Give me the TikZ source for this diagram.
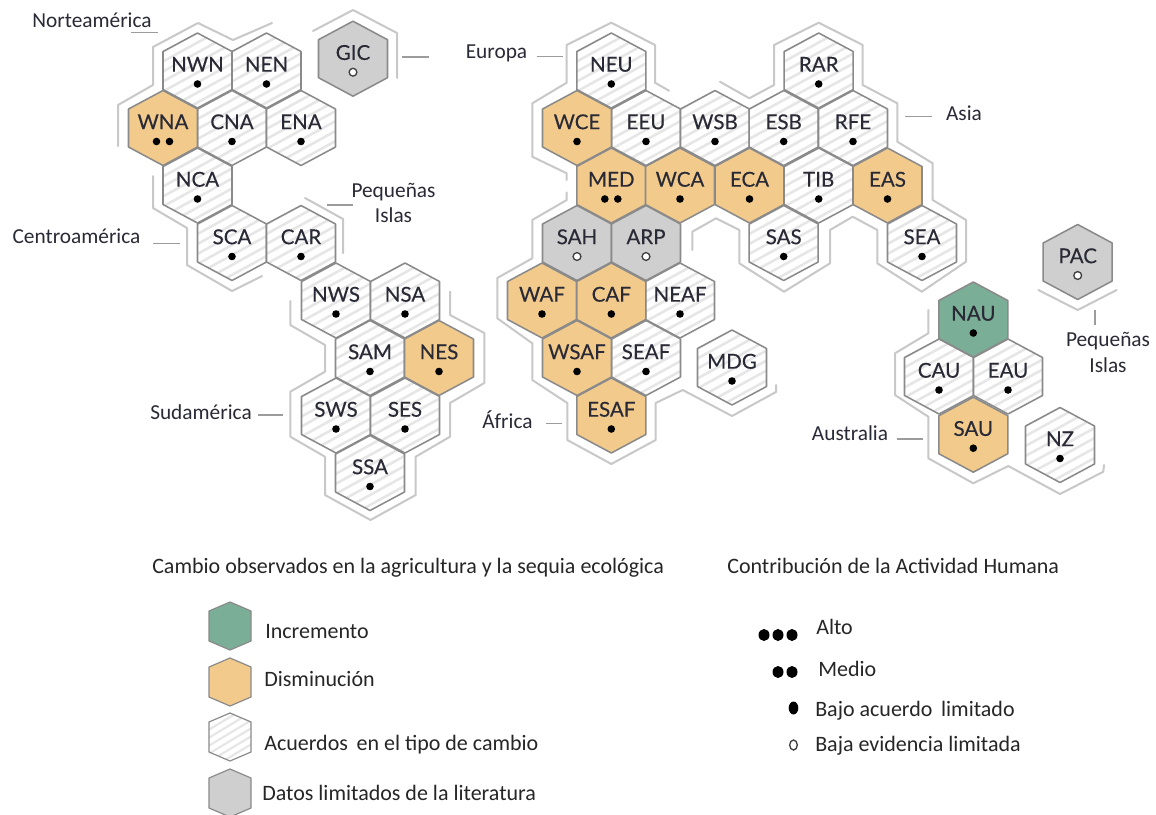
\documentclass[tikz,border=0pt]{standalone}
\usepackage{fontspec}
\setmainfont{Carlito}
\newfontfamily\latofont[FakeBold=0.25]{Lato}
\definecolor{cOrange}{HTML}{F2CB8C}
\definecolor{cGreen}{HTML}{7BAE96}
\definecolor{cGray}{HTML}{CFCFCF}
\definecolor{cBorder}{HTML}{8A8A8A}
\definecolor{cHatch}{HTML}{E6E6E6}
\definecolor{cOut}{HTML}{C8C8C8}
\definecolor{cInk}{HTML}{2A2A36}
\tikzset{
  hexline/.style={draw=cBorder,line width=1.15pt,line join=round},
  outl/.style={draw=cOut,line width=1.5pt,line join=round,line cap=round},
  tick/.style={draw=cBorder!85,line width=0.8pt},
  hexlabel/.style={font=\latofont\fontsize{15.4}{17}\selectfont,text=cInk,anchor=mid,inner sep=0pt},
  lab/.style={font=\fontsize{16}{18}\selectfont,text=cInk,anchor=mid,inner sep=0pt},
  legt/.style={font=\fontsize{16.5}{18}\selectfont,text=black!85,anchor=mid west,inner sep=0pt},
  dotc/.style={fill=black,draw=none},
  doto/.style={fill=white,draw=black!75,line width=1pt},
}
% hexagon path, centre #1,#2
\newcommand{\hxpath}[2]{(#1,#2-37.5) -- (#1+34.5,#2-19) -- (#1+34.5,#2+19) -- (#1,#2+37.5) -- (#1-34.5,#2+19) -- (#1-34.5,#2-19) -- cycle}
% #1 name/text, #2 x, #3 y, #4 kind (O,G,H,L), #5 dots (0 open,1,2)
\newcommand{\hxfill}[4]{%
  \if#4H
    \fill[white] \hxpath{#2}{#3};
    \begin{scope}
      \clip \hxpath{#2}{#3};
      \foreach \k in {-48,-38,...,48}
        \draw[cHatch,line width=1.9pt] (#2-40,#3+\k+22) -- (#2+40,#3+\k-22);
    \end{scope}
  \fi
  \if#4O \fill[cOrange] \hxpath{#2}{#3}; \fi
  \if#4G \fill[cGreen] \hxpath{#2}{#3}; \fi
  \if#4L \fill[cGray] \hxpath{#2}{#3}; \fi
}
\newcommand{\hx}[5]{%
  \hxfill{#1}{#2}{#3}{#4}%
  \draw[hexline] \hxpath{#2}{#3};
  \node[hexlabel] (#1) at (#2,#3-2) {#1};
  \ifnum#5=0 \draw[doto] (#2,#3+13.5) circle (3.9); \fi
  \ifnum#5=1 \fill[dotc] (#2,#3+13.5) circle (3.8); \fi
  \ifnum#5=2 \fill[dotc] (#2-6.5,#3+13.5) circle (3.8) (#2+6.5,#3+13.5) circle (3.8); \fi
}
\newcommand{\lghex}[3]{%
  \def\lgp{(230,#1-24) -- (251,#1-15) -- (251,#1+15) -- (230,#1+24) -- (209,#1+15) -- (209,#1-15) -- cycle}%
  \ifx#2H
    \fill[white] \lgp;
    \begin{scope}
      \clip \lgp;
      \foreach \k in {-36,-28,...,36}
        \draw[cHatch,line width=1.6pt] (205,#1+\k+15) -- (255,#1+\k-15);
    \end{scope}
  \else
    \fill[#3] \lgp;
  \fi
  \draw[draw=cBorder,line width=0.9pt,line join=round] \lgp;
}
\begin{document}
\begin{tikzpicture}[x=0.75pt,y=-0.75pt]
\useasboundingbox (0,0) rectangle (1156,814);
\fill[white] (0,0) rectangle (1156,814);

% --- region outlines
\draw[outl] (272,23) -- (233,40) -- (198,23) -- (153,47) -- (153,85) -- (118,105) -- (118,146);
\draw[outl] (153,176) -- (153,208) -- (187,228) -- (187,265) -- (232,291) -- (262,276);
\draw[outl] (313,31) -- (353,10) -- (397,33) -- (397,78);
\draw[outl] (305,198) -- (343,219) -- (343,253);
\draw[outl] (290.3,301) -- (290.3,325) -- (325,345) -- (325,371.7) -- (290.3,391.7) -- (290.3,436.7) -- (325,456.7) -- (325,495) -- (370.5,520) -- (415.7,495) -- (415.7,456.7) -- (450,436.7) -- (450,403) -- (484.3,383) -- (484.3,333) -- (450,315) -- (450,291.7);
\draw[outl] (669,90.7) -- (655,82.7) -- (655,45) -- (611.3,22.7) -- (566.7,45) -- (566.7,82.7) -- (532.3,103.3) -- (532.3,156.7) -- (566.7,173.3) -- (566.7,180);
\draw[outl] (566.7,192.3) -- (566.7,200) -- (532.3,220) -- (532.3,258.3) -- (497.3,278) -- (497.3,318.3) -- (532.3,343.3) -- (532.3,380) -- (567.3,403) -- (567.3,440) -- (611.3,464) -- (655.7,440) -- (655.7,403) -- (682.7,390) -- (732,416) -- (776,392) -- (776,385);
\draw[outl] (720,81.7) -- (749.3,98.3) -- (774,85) -- (774,45) -- (818.7,22.7) -- (862.7,45) -- (862.7,85) -- (897.3,103.3) -- (897.3,141.7) -- (932.7,163.3) -- (932.7,200) -- (966,220) -- (966,261.7) -- (921.7,291.7) -- (877.3,263.3) -- (877.3,230) -- (852.7,216.7) -- (830,230) -- (830,263.3) -- (784,291.7) -- (739.3,263.3) -- (739.3,230) -- (716,218.3) -- (692.3,231.7) -- (692.3,250);
\draw[outl] (928.3,310) -- (928.3,333.3) -- (895,353.3) -- (895,395) -- (928.3,416.7) -- (928.3,458.3) -- (973.3,483.3) -- (1008.3,466) -- (1060,494) -- (1103.3,471.7) -- (1104,465);
\draw[outl] (1038.3,290) -- (1077.7,310) -- (1116.7,290);

% --- ticks
\draw[tick] (131,32.7) -- (158,32.7);
\draw[tick] (402,57) -- (429,57);
\draw[tick] (327,205) -- (353,205);
\draw[tick] (153,243.7) -- (180,243.7);
\draw[tick] (258,415) -- (283,415);
\draw[tick] (536.7,56.7) -- (563.3,56.7);
\draw[tick] (905,116.7) -- (931.7,116.7);
\draw[tick] (545.7,423.3) -- (561.7,423.3);
\draw[tick] (896.7,439) -- (922.7,439);
\draw[tick] (1095,310) -- (1095,325);

% --- hexagons
\hx{NWN}{197.5}{70.5}{H}{1}
\hx{NEN}{266.5}{70.5}{H}{1}
\hx{CNA}{232}{128}{H}{1}
\hx{ENA}{301}{128}{H}{1}
\hx{WNA}{163}{128}{O}{2}
\hx{NCA}{197.5}{185.5}{H}{1}
\hx{SCA}{232}{243}{H}{1}
\hx{CAR}{301}{243}{H}{1}
\hx{NWS}{336}{300.5}{H}{1}
\hx{NSA}{405}{300.5}{H}{1}
\hx{SAM}{370}{358}{H}{1}
\hx{NES}{439}{358}{O}{1}
\hx{SWS}{336}{415.5}{H}{1}
\hx{SES}{405}{415.5}{H}{1}
\hx{SSA}{370}{473}{H}{1}
\hx{GIC}{353}{58.7}{L}{0}

\hx{NEU}{611.3}{70.5}{H}{1}
\hx{RAR}{818.7}{70.5}{H}{1}
\hx{EEU}{646}{128}{H}{1}
\hx{WSB}{715}{128}{H}{1}
\hx{ESB}{783.7}{128}{H}{1}
\hx{RFE}{853}{128}{H}{1}
\hx{WCE}{577}{128}{O}{1}
\hx{TIB}{818.7}{185.5}{H}{1}
\hx{MED}{611.3}{185.5}{O}{2}
\hx{WCA}{680}{185.5}{O}{1}
\hx{ECA}{749.5}{185.5}{O}{1}
\hx{EAS}{887.5}{185.5}{O}{1}
\hx{SAS}{783.7}{243}{H}{1}
\hx{SEA}{922}{243}{H}{1}
\hx{SAH}{577}{243}{L}{0}
\hx{ARP}{646}{243}{L}{0}
\hx{NEAF}{680}{300.5}{H}{1}
\hx{WAF}{542}{300.5}{O}{1}
\hx{CAF}{611.3}{300.5}{O}{1}
\hx{SEAF}{646}{358}{H}{1}
\hx{WSAF}{577}{358}{O}{1}
\hx{ESAF}{611.3}{415.5}{O}{1}
\hx{MDG}{732}{367.5}{H}{1}

\hx{CAU}{939}{376.5}{H}{1}
\hx{EAU}{1008}{376.5}{H}{1}
\hx{NAU}{973.3}{319.5}{G}{1}
\hx{SAU}{973.3}{434.7}{O}{1}
\hx{NZ}{1060}{445}{H}{1}
\hx{PAC}{1077.7}{262}{L}{0}

% --- region labels
\node[lab] (lNorte) at (92,24) {Norteamérica};
\node[lab] (lPeq1) at (393.5,194) {Pequeñas};
\node[lab] (lPeq1b) at (393.5,219) {Islas};
\node[lab] (lCentro) at (76.5,240) {Centroamérica};
\node[lab] (lSud) at (201,416) {Sudamérica};
\node[lab] (lEur) at (496.5,55) {Europa};
\node[lab] (lAsia) at (964,117) {Asia};
\node[lab] (lAfr) at (507.5,425) {África};
\node[lab] (lAus) at (850,437) {Australia};
\node[lab] (lPeq2) at (1108,343) {Pequeñas};
\node[lab] (lPeq2b) at (1108,369) {Islas};

% --- legend
\node[legt] (t1) at (152,570) {Cambio observados en la agricultura y la sequia ecológica};
\node[legt] (t2) at (727,570) {Contribución de la Actividad Humana};
\lghex{626}{X}{cGreen}
\lghex{682}{X}{cOrange}
\lghex{737}{H}{white}
\lghex{793}{X}{cGray}
\node[legt] (a1) at (265,635) {Incremento};
\node[legt] (a2) at (264,683) {Disminución};
\node[legt] (a3) at (264,747) {Acuerdos\, en el tipo de cambio};
\node[legt] (a4) at (262,797) {Datos limitados de la literatura};
\fill[black] (764,635) ellipse (5.5 and 6) (778,635) ellipse (5.5 and 6) (792,635) ellipse (5.5 and 6);
\fill[black] (778,672) ellipse (5.5 and 6) (792,672) ellipse (5.5 and 6);
\fill[black] (793.5,708) ellipse (4.8 and 6.5);
\draw[black!75,line width=1pt] (793.5,745) ellipse (3.8 and 5);
\node[legt] (b1) at (816,631) {Alto};
\node[legt] (b2) at (818,673) {Medio};
\node[legt] (b3) at (815,713) {Bajo acuerdo\, limitado};
\node[legt] (b4) at (815,748) {Baja evidencia limitada};
\end{tikzpicture}
\end{document}
